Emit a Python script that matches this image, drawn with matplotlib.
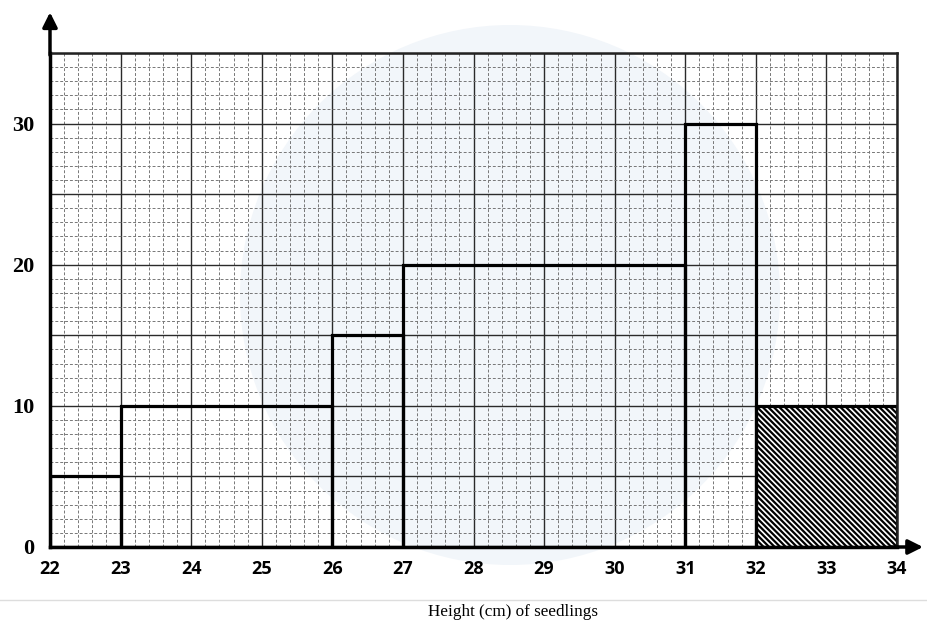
import numpy as np
import matplotlib.pyplot as plt
from matplotlib.patches import Ellipse
from matplotlib.lines import Line2D

# Histogram of seedling heights: class boundaries (cm) and frequencies
bin_edges = [22, 23, 26, 27, 31, 32]
frequencies = [5, 10, 15, 20, 30]

# the shaded class at the end of the chart
shaded_edges = [32, 34]
shaded_freq = [10]

x_ticks = list(range(22, 35))
y_ticks = list(range(0, 36, 5))
y_tick_labels = ['0', '', '10', '', '20', '', '30', '']

plt.rcParams['font.family'] = ['Liberation Serif', 'DejaVu Serif']
plt.rcParams['hatch.linewidth'] = 1.6

fig = plt.figure(figsize=(9.28, 6.3), dpi=100)

# faint watermark circle behind the graph paper (radius ~270 px)
fig.add_artist(Ellipse((510 / 928, 1 - 295 / 630), 540 / 928, 540 / 630, transform=fig.transFigure,
                       facecolor='#f2f6fa', edgecolor='none', zorder=-5))
# paper edge under the label
fig.add_artist(Line2D([0, 1], [0.047, 0.047], transform=fig.transFigure, color='#dddddd', lw=1))

ax = fig.add_axes([50 / 928, 83 / 630, 847 / 928, 494 / 630])
ax.set_facecolor('none')

# main histogram bars (outlines only, like drawn on graph paper)
widths = np.diff(bin_edges)
ax.bar(bin_edges[:-1], frequencies, width=widths, align='edge', fill=False,
       edgecolor='black', linewidth=2.3, zorder=3)

# hatched bar
ax.bar(shaded_edges[:-1], shaded_freq, width=np.diff(shaded_edges), align='edge',
       facecolor='white', edgecolor='black', hatch='\\' * 6, linewidth=2.3, zorder=2.5)

ax.set_xlim(22, 34)
ax.set_ylim(0, 35)

# graph paper grid
ax.set_xticks(x_ticks)
ax.set_xticks(np.arange(22, 34, 0.2), minor=True)
ax.set_yticks(y_ticks)
ax.set_yticklabels(y_tick_labels)
ax.set_yticks(range(0, 36), minor=True)
ax.set_axisbelow(True)
ax.grid(which='major', color='#2a2a2a', linewidth=1.0)
ax.grid(which='minor', color='#777777', linewidth=0.7, linestyle=(0, (3, 2)))

ax.tick_params(which='both', length=0)
ax.tick_params(axis='x', pad=9)
ax.tick_params(axis='y', pad=11)
for lab in ax.get_xticklabels():
    lab.set_fontweight('bold')
    lab.set_fontfamily(['Open Sans', 'DejaVu Sans'])
    lab.set_fontsize(13)
for lab in ax.get_yticklabels():
    lab.set_fontweight('bold')
    lab.set_fontsize(16)

for side in ['left', 'bottom']:
    ax.spines[side].set_linewidth(2.5)
    ax.spines[side].set_color('black')
for side in ['top', 'right']:
    ax.spines[side].set_linewidth(1.8)
    ax.spines[side].set_color('#222222')

# axis arrows
ax.annotate('', xy=(0, 1.088), xycoords='axes fraction', xytext=(0, 0.99),
            arrowprops=dict(arrowstyle='-|>', lw=2.5, color='black', mutation_scale=22))
ax.annotate('', xy=(1.034, 0), xycoords='axes fraction', xytext=(0.99, 0),
            arrowprops=dict(arrowstyle='-|>', lw=2.5, color='black', mutation_scale=22))

ax.set_xlabel('Height (cm) of seedlings', fontsize=12.3, va='center')
ax.xaxis.set_label_coords((513 - 50) / 847, -(612 - 547) / 494)

fig.savefig('out.png', dpi=100)
